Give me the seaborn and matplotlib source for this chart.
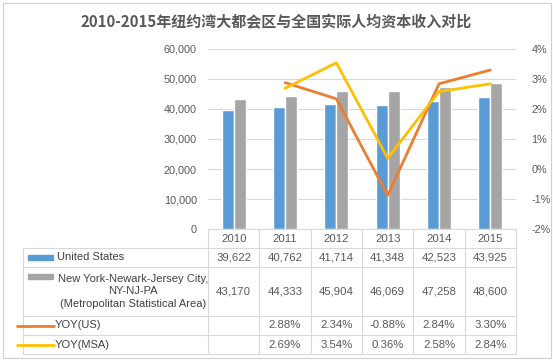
import numpy as np
import pandas as pd
import matplotlib.pyplot as plt
import matplotlib.transforms as mtrans
from matplotlib.patches import Rectangle
from matplotlib.lines import Line2D
from matplotlib.ticker import FuncFormatter
import seaborn as sns

# data
years = ["2010", "2011", "2012", "2013", "2014", "2015"]
us_income = [39622, 40762, 41714, 41348, 42523, 43925]
msa_income = [43170, 44333, 45904, 46069, 47258, 48600]
yoy_us = [np.nan, 2.88, 2.34, -0.88, 2.84, 3.30]
yoy_msa = [np.nan, 2.69, 3.54, 0.36, 2.58, 2.84]

series_names = ["United States",
                "New York-Newark-Jersey City,\nNY-NJ-PA\n(Metropolitan Statistical Area)"]
line_names = ["YOY(US)", "YOY(MSA)"]
title = "2010-2015年纽约湾大都会区与全国实际人均资本收入对比"

c_blue, c_grey = "#5B9BD5", "#A5A5A5"
c_orange, c_gold = "#ED7D31", "#FFC000"
txt = "#595959"
grid_c = "#D9D9D9"

sns.set_theme(style="white")
plt.rcParams['font.family'] = ['Liberation Sans', 'Noto Sans CJK SC', 'DejaVu Sans']

W, H = 553, 361
fig = plt.figure(figsize=(W / 100, H / 100), dpi=100)

def fy(y):
    return 1 - y / H

# plot area in pixel coords
x0, x1, ytop, ybot = 208, 516, 49, 229
ax = fig.add_axes([x0 / W, fy(ybot), (x1 - x0) / W, (ybot - ytop) / H])

bars = pd.DataFrame({
    "year": years * 2,
    "value": us_income + msa_income,
    "series": ["us"] * 6 + ["msa"] * 6,
})
sns.barplot(data=bars, x="year", y="value", hue="series",
            palette=[c_blue, c_grey], width=0.47, gap=0,
            saturation=1, legend=False, ax=ax)
ax.set_xlim(-0.5, 5.5)
ax.set_ylim(0, 60000)
ax.set_yticks(range(0, 60001, 10000))
ax.yaxis.set_major_formatter(FuncFormatter(lambda v, p: f"{v:,.0f}"))
ax.grid(axis="y", color=grid_c, linewidth=0.8)
ax.set_axisbelow(True)
ax.set_xlabel("")
ax.set_ylabel("")
ax.set_xticks([])
for s in ax.spines.values():
    s.set_visible(False)
ax.tick_params(axis="y", colors=txt, labelsize=7.8, length=0, pad=8)

ax2 = ax.twinx()
lines = pd.DataFrame({
    "pos": list(range(6)) * 2,
    "yoy": [v / 100 for v in yoy_us + yoy_msa],
    "series": ["us"] * 6 + ["msa"] * 6,
}).dropna()
sns.lineplot(data=lines, x="pos", y="yoy", hue="series",
             palette=[c_orange, c_gold], linewidth=2.0,
             legend=False, ax=ax2)
ax2.set_xlim(-0.5, 5.5)
ax2.set_ylim(-0.02, 0.04)
ax2.set_yticks(np.arange(-0.02, 0.0401, 0.01))
ax2.yaxis.set_major_formatter(FuncFormatter(lambda v, p: f"{v * 100:.0f}%"))
ax2.set_ylabel("")
ax2.set_xlabel("")
for s in ax2.spines.values():
    s.set_visible(False)
ax2.tick_params(axis="y", colors=txt, labelsize=7.8, length=0, pad=11)

fig.text(0.5, fy(22), title, ha="center", va="center", fontsize=10.8,
         fontweight="bold", color=txt, family=['Noto Sans CJK SC'])

# data table under the chart
tx = mtrans.blended_transform_factory(ax.transData, fig.transFigure)
tl = dict(color=grid_c, linewidth=0.8, transform=fig.transFigure)
rows = [229, 248, 267, 316, 335, 354]
tab_left = 23
fig.add_artist(Line2D([x0 / W, x1 / W], [fy(229)] * 2, **tl))
for y in rows[1:]:
    fig.add_artist(Line2D([tab_left / W, x1 / W], [fy(y)] * 2, **tl))
fig.add_artist(Line2D([tab_left / W] * 2, [fy(248), fy(354)], **tl))
for i in range(len(years) + 1):
    fig.add_artist(Line2D([i - 0.5] * 2, [fy(229), fy(354)], color=grid_c,
                          linewidth=0.8, transform=tx))

tf = dict(ha="center", va="center", fontsize=8.2, color=txt, transform=tx)
row_y = [239, 257.5, 291.5, 325.5, 344.5]
for i, yr in enumerate(years):
    fig.text(i, fy(row_y[0]), yr, **tf)
    fig.text(i, fy(row_y[1]), f"{us_income[i]:,}", **tf)
    fig.text(i, fy(row_y[2]), f"{msa_income[i]:,}", **tf)
    if not np.isnan(yoy_us[i]):
        fig.text(i, fy(row_y[3]), f"{yoy_us[i]:.2f}%", **tf)
        fig.text(i, fy(row_y[4]), f"{yoy_msa[i]:.2f}%", **tf)

lab = dict(va="center", fontsize=8.0, color="#404040")
fig.add_artist(Rectangle((28 / W, fy(259.5)), 25 / W, 5 / H, color=c_blue,
                         transform=fig.transFigure))
fig.text(57 / W, fy(row_y[1]), series_names[0], ha="left", **lab)
fig.add_artist(Rectangle((28 / W, fy(278.5)), 25 / W, 5 / H, color=c_grey,
                         transform=fig.transFigure))
fig.text(133 / W, fy(row_y[2]), series_names[1], ha="center",
         multialignment="center", linespacing=1.3, **lab)
for k, (c, name) in enumerate(zip([c_orange, c_gold], line_names)):
    yy = fy(row_y[3 + k])
    fig.add_artist(Line2D([17 / W, 54 / W], [yy, yy], color=c, linewidth=2.0,
                          transform=fig.transFigure))
    fig.text(55 / W, yy, name, ha="left", **lab)

# chart border
fig.add_artist(Rectangle((3 / W, fy(358)), 548 / W, 355 / H, fill=False,
                         edgecolor="#D0D0D0", linewidth=0.8,
                         transform=fig.transFigure))

fig.savefig("out.png", dpi=100)
